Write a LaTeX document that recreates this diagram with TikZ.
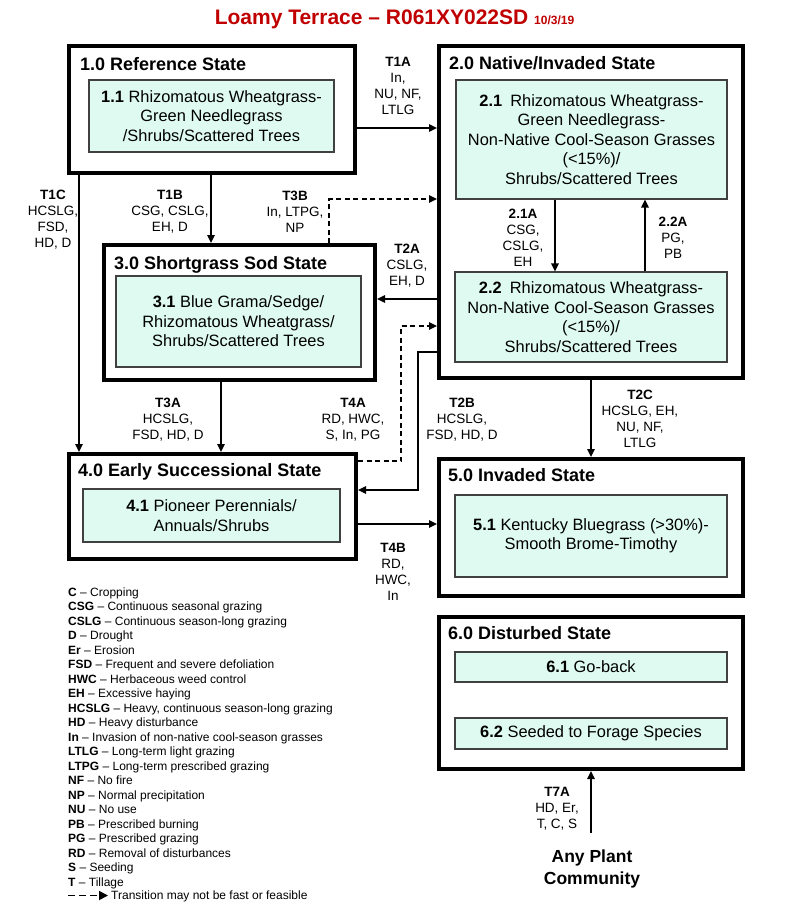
\documentclass[tikz,border=0pt]{standalone}
\usepackage{fontspec}
\setmainfont{Liberation Sans}
\usetikzlibrary{arrows.meta}
\definecolor{titlered}{RGB}{192,0,0}
\definecolor{phasefill}{RGB}{222,250,241}

\begin{document}
\begin{tikzpicture}[x=1pt, y=-1pt]
    % Define styles
    \tikzstyle{state} = [rectangle, draw=black, line width=4pt, fill=white, inner sep=0pt]
    \tikzstyle{phase} = [rectangle, draw=black!75, line width=1.2pt, fill=phasefill, align=center, inner sep=0pt, font=\fontsize{16.4}{19.5}\selectfont]
    \tikzstyle{statetitle} = [anchor=base west, inner sep=0pt, font=\fontsize{18}{21}\selectfont\bfseries]
    \tikzstyle{trans} = [align=center, inner sep=0pt, font=\fontsize{13.5}{16}\selectfont]
    \tikzstyle{legendtext} = [anchor=base west, inner sep=0pt, font=\fontsize{12}{14}\selectfont]
    \tikzstyle{arrow} = [line width=1.5pt, -{Triangle[length=8pt,width=7.5pt]}]
    \tikzstyle{dasharrow} = [arrow, dash pattern=on 5pt off 3.5pt]

    \useasboundingbox (0,0) rectangle (800,908);

    % Title
    \node (title) at (394.5,19) {\fontsize{21}{24}\selectfont\bfseries\color{titlered}Loamy Terrace – R061XY022SD {\fontsize{12}{14}\selectfont 10/3/19}};

    % State boxes
    \node (ref) [state, minimum width=286pt, minimum height=127pt] at (212,109.5) {};
    \node (native) [state, minimum width=304pt, minimum height=332pt] at (591,212) {};
    \node (sod) [state, minimum width=271pt, minimum height=135pt] at (239.5,312.5) {};
    \node (early) [state, minimum width=287pt, minimum height=105pt] at (212.5,506.5) {};
    \node (invaded) [state, minimum width=304pt, minimum height=137pt] at (591,527.5) {};
    \node (disturbed) [state, minimum width=304pt, minimum height=152pt] at (591,693) {};

    % State titles
    \node (reft) [statetitle] at (80,70.5) {1.0 Reference State};
    \node (nativet) [statetitle] at (449,69.5) {2.0 Native/Invaded State};
    \node (sodt) [statetitle] at (114,269.5) {3.0 Shortgrass Sod State};
    \node (earlyt) [statetitle] at (78,476.5) {4.0 Early Successional State};
    \node (invadedt) [statetitle] at (448,481.5) {5.0 Invaded State};
    \node (disturbedt) [statetitle] at (448,639.5) {6.0 Disturbed State};

    % Community phases
    \node (p11) [phase, minimum width=245pt, minimum height=72pt] at (211.5,116) {\textbf{1.1} Rhizomatous Wheatgrass-\\Green Needlegrass\\/Shrubs/Scattered Trees};
    \node (p21) [phase, minimum width=271pt, minimum height=119pt] at (591.5,139.5) {\textbf{2.1}\enspace Rhizomatous Wheatgrass-\\Green Needlegrass-\\Non-Native Cool-Season Grasses\\(<15\%)/\\Shrubs/Scattered Trees};
    \node (p22) [phase, minimum width=272pt, minimum height=90pt] at (591,317) {\textbf{2.2}\enspace Rhizomatous Wheatgrass-\\Non-Native Cool-Season Grasses\\(<15\%)/\\Shrubs/Scattered Trees};
    \node (p31) [phase, minimum width=245pt, minimum height=91pt] at (238.5,321.5) {\textbf{3.1} Blue Grama/Sedge/\\Rhizomatous Wheatgrass/\\Shrubs/Scattered Trees};
    \node (p41) [phase, minimum width=257pt, minimum height=53pt] at (211.5,515.5) {\textbf{4.1} Pioneer Perennials/\\Annuals/Shrubs};
    \node (p51) [phase, minimum width=272pt, minimum height=82pt] at (591,536) {\textbf{5.1} Kentucky Bluegrass (>30\%)-\\Smooth Brome-Timothy};
    \node (p61) [phase, minimum width=272pt, minimum height=30pt] at (591,667) {\textbf{6.1} Go-back};
    \node (p62) [phase, minimum width=272pt, minimum height=31pt] at (591,733.5) {\textbf{6.2} Seeded to Forage Species};

    \node (apc) [align=center, font=\fontsize{17.5}{22}\selectfont\bfseries] at (592,869) {Any Plant\\Community};
    \coordinate (t7a) at (591,833);

    % Arrows
    \draw [arrow] (ref.east |- 0,128) -- (native.west |- 0,128);
    \draw [arrow] (ref.south -| 79,0) -- (early.north -| 79,0);
    \draw [arrow] (ref.south -| 211,0) -- (sod.north -| 211,0);
    \draw [dasharrow] (sod.north -| 329,0) |- (native.west |- 0,199);
    \draw [arrow] (native.west |- 0,299) -- (sod.east |- 0,299);
    \draw [arrow] (native.west |- 0,352) -- ++(-19,0) |- (early.east |- 0,490);
    \draw [dasharrow] (early.east |- 0,461) -- ++(43,0) |- (native.west |- 0,326);
    \draw [arrow] (sod.south -| 221,0) -- (early.north -| 221,0);
    \draw [arrow] (native.south -| 591,0) -- (invaded.north);
    \draw [arrow] (early.east |- 0,524) -- (invaded.west |- 0,524);
    \draw [arrow] (p21.south -| 555,0) -- (p22.north -| 555,0);
    \draw [arrow] (p22.north -| 645,0) -- (p21.south -| 645,0);
    \draw [arrow] (t7a) -- (disturbed.south);

    % Transition labels
    \node (l1a) [trans] at (398,86) {\textbf{T1A}\\In,\\NU, NF,\\LTLG};
    \node (l1c) [trans] at (53,219.5) {\textbf{T1C}\\HCSLG,\\FSD,\\HD, D};
    \node (l1b) [trans] at (170,211.5) {\textbf{T1B}\\CSG, CSLG,\\EH, D};
    \node (l3b) [trans] at (295,211.5) {\textbf{T3B}\\In, LTPG,\\NP};
    \node (l2a) [trans] at (407,266) {\textbf{T2A}\\CSLG,\\EH, D};
    \node (l21a) [trans] at (523,237.5) {\textbf{2.1A}\\CSG,\\CSLG,\\EH};
    \node (l22a) [trans] at (673,238) {\textbf{2.2A}\\PG,\\PB};
    \node (l3a) [trans] at (168,419.5) {\textbf{T3A}\\HCSLG,\\FSD, HD, D};
    \node (l4a) [trans] at (353,419.5) {\textbf{T4A}\\RD, HWC,\\S, In, PG};
    \node (l2b) [trans] at (462,419.5) {\textbf{T2B}\\HCSLG,\\FSD, HD, D};
    \node (l2c) [trans] at (640,418.5) {\textbf{T2C}\\HCSLG, EH,\\NU, NF,\\LTLG};
    \node (l4b) [trans] at (393,572) {\textbf{T4B}\\RD,\\HWC,\\In};
    \node (l7a) [trans] at (557,809) {\textbf{T7A}\\HD, Er,\\T, C, S};

    % Legend
    \foreach \abbr/\desc [count=\i] in {C/Cropping, CSG/Continuous seasonal grazing, CSLG/Continuous season-long grazing, D/Drought, Er/Erosion, FSD/Frequent and severe defoliation, HWC/Herbaceous weed control, EH/Excessive haying, HCSLG/{Heavy, continuous season-long grazing}, HD/Heavy disturbance, In/Invasion of non-native cool-season grasses, LTLG/Long-term light grazing, LTPG/Long-term prescribed grazing, NF/No fire, NP/Normal precipitation, NU/No use, PB/Prescribed burning, PG/Prescribed grazing, RD/Removal of disturbances, S/Seeding, T/Tillage}
        \node (leg\i) [legendtext] at (68,{596+14.5*(\i-1)}) {\textbf{\abbr} – \desc};
    \node (legdash) [legendtext] at (111,899.5) {Transition may not be fast or feasible};
    \coordinate (legkey) at (68,895.5);
    \draw [arrow, line width=1.8pt, dash pattern=on 7pt off 4pt, -{Triangle[length=9pt,width=9pt]}, shorten >=3pt] (legkey) -- (legkey -| legdash.west);
\end{tikzpicture}
\end{document}
